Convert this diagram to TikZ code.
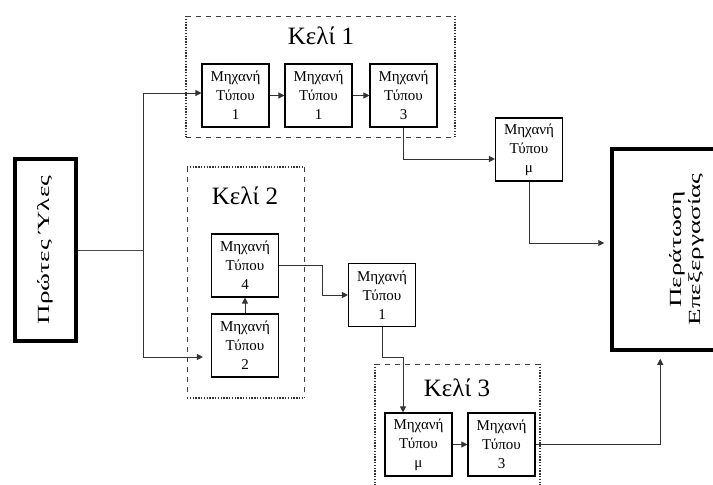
\documentclass[tikz,border=0pt]{standalone}
\usepackage{fontspec}
\setmainfont{Liberation Serif}
\usepackage{graphicx}
\usetikzlibrary{arrows.meta}
\begin{document}
\begin{tikzpicture}[x=1pt,y=-1pt,
 mach/.style={draw, line width=1.1pt, minimum width=67pt, minimum height=63pt, inner sep=0pt, align=center, font=\fontsize{15}{19}\selectfont},
 bigbox/.style={draw, line width=3.5pt, inner sep=0pt},
 conn/.style={line width=0.9pt, draw=black!80, -{Triangle[length=6pt,width=6pt]}},
 lnk/.style={line width=0.9pt, draw=black!70},
 dsh/.style={draw=black!75, line width=1pt, dash pattern=on 5pt off 5pt},
 dtt/.style={draw=black!80, line width=1.4pt, dash pattern=on 1.4pt off 1.4pt},
 keli/.style={font=\fontsize{25}{30}\selectfont, anchor=base, inner sep=0pt}]
\useasboundingbox[fill=white] (0,0) rectangle (713,485);

% cell frames
\draw[dsh] (186,16) -- (455,16);
\draw[dsh] (186,137) -- (455,137);
\draw[dtt] (186,16) -- (186,137);
\draw[dtt] (455,16) -- (455,137);

\draw[dtt] (187,167) -- (304,167);
\draw[dtt] (187,398) -- (304,398);
\draw[dsh] (187,167) -- (187,398);
\draw[dsh] (304,167) -- (304,398);

\draw[dsh] (375,364) -- (540,364);
\draw[dtt] (375,364) -- (375,490);
\draw[dtt] (540,364) -- (540,490);

\node[keli] (k1) at (321,44) {Κελί 1};
\node[keli] (k2) at (245,204) {Κελί 2};
\node[keli] (k3) at (457,396) {Κελί 3};

% big boxes
\node[bigbox, minimum width=61pt, minimum height=182pt] (raw) at (45.5,250)
  {\rotatebox{90}{\scalebox{1.6}[1]{\fontsize{17}{19}\selectfont Πρώτες Ύλες}}};
\node[bigbox, minimum width=150pt, minimum height=201pt] (fin) at (687,249.5)
  {\rotatebox{90}{\scalebox{1.6}[1]{\fontsize{17}{19}\selectfont\begin{tabular}{@{}c@{}}Περάτωση\\Επεξεργασίας\end{tabular}}}};

% machines
\node[mach] (m11) at (235.5,95.5) {Μηχανή\\Τύπου\\1};
\node[mach] (m12) at (318.5,95.5) {Μηχανή\\Τύπου\\1};
\node[mach] (m13) at (403.5,95.5) {Μηχανή\\Τύπου\\3};
\node[mach] (mmu) at (529,149.5) {Μηχανή\\Τύπου\\μ};
\node[mach] (m4) at (245,265.5) {Μηχανή\\Τύπου\\4};
\node[mach] (m2) at (245,345.5) {Μηχανή\\Τύπου\\2};
\node[mach] (m1) at (382,295) {Μηχανή\\Τύπου\\1};
\node[mach] (m3mu) at (418.5,444.5) {Μηχανή\\Τύπου\\μ};
\node[mach] (m33) at (501.5,444.5) {Μηχανή\\Τύπου\\3};

% connectors
\coordinate (split) at (143,250);
\draw[lnk] (raw.east) -- (split);
\draw[conn] (split) |- ([yshift=2.5pt]m11.west);
\draw[conn, shorten >=8pt] (split) |- ([yshift=-11.5pt]m2.west);
\draw[conn] (m11) -- (m12);
\draw[conn] (m12) -- (m13);
\draw[conn] (m13.south) |- ([yshift=-9.5pt]mmu.west);
\draw[conn, shorten >=6pt] (mmu.south) |- ([yshift=6.5pt]fin.west);
\draw[conn] (m2) -- (m4);
\draw[conn] (m4.east) -- ++(43,0) |- (m1.west);
\draw[conn] (m1.south) -- ++(0,30) -| ([xshift=-15.5pt]m3mu.north);
\draw[conn] (m3mu) -- (m33);
\draw[conn, shorten >=7pt] (m33.east) -| ([xshift=50pt]fin.south west);
\end{tikzpicture}
\end{document}
